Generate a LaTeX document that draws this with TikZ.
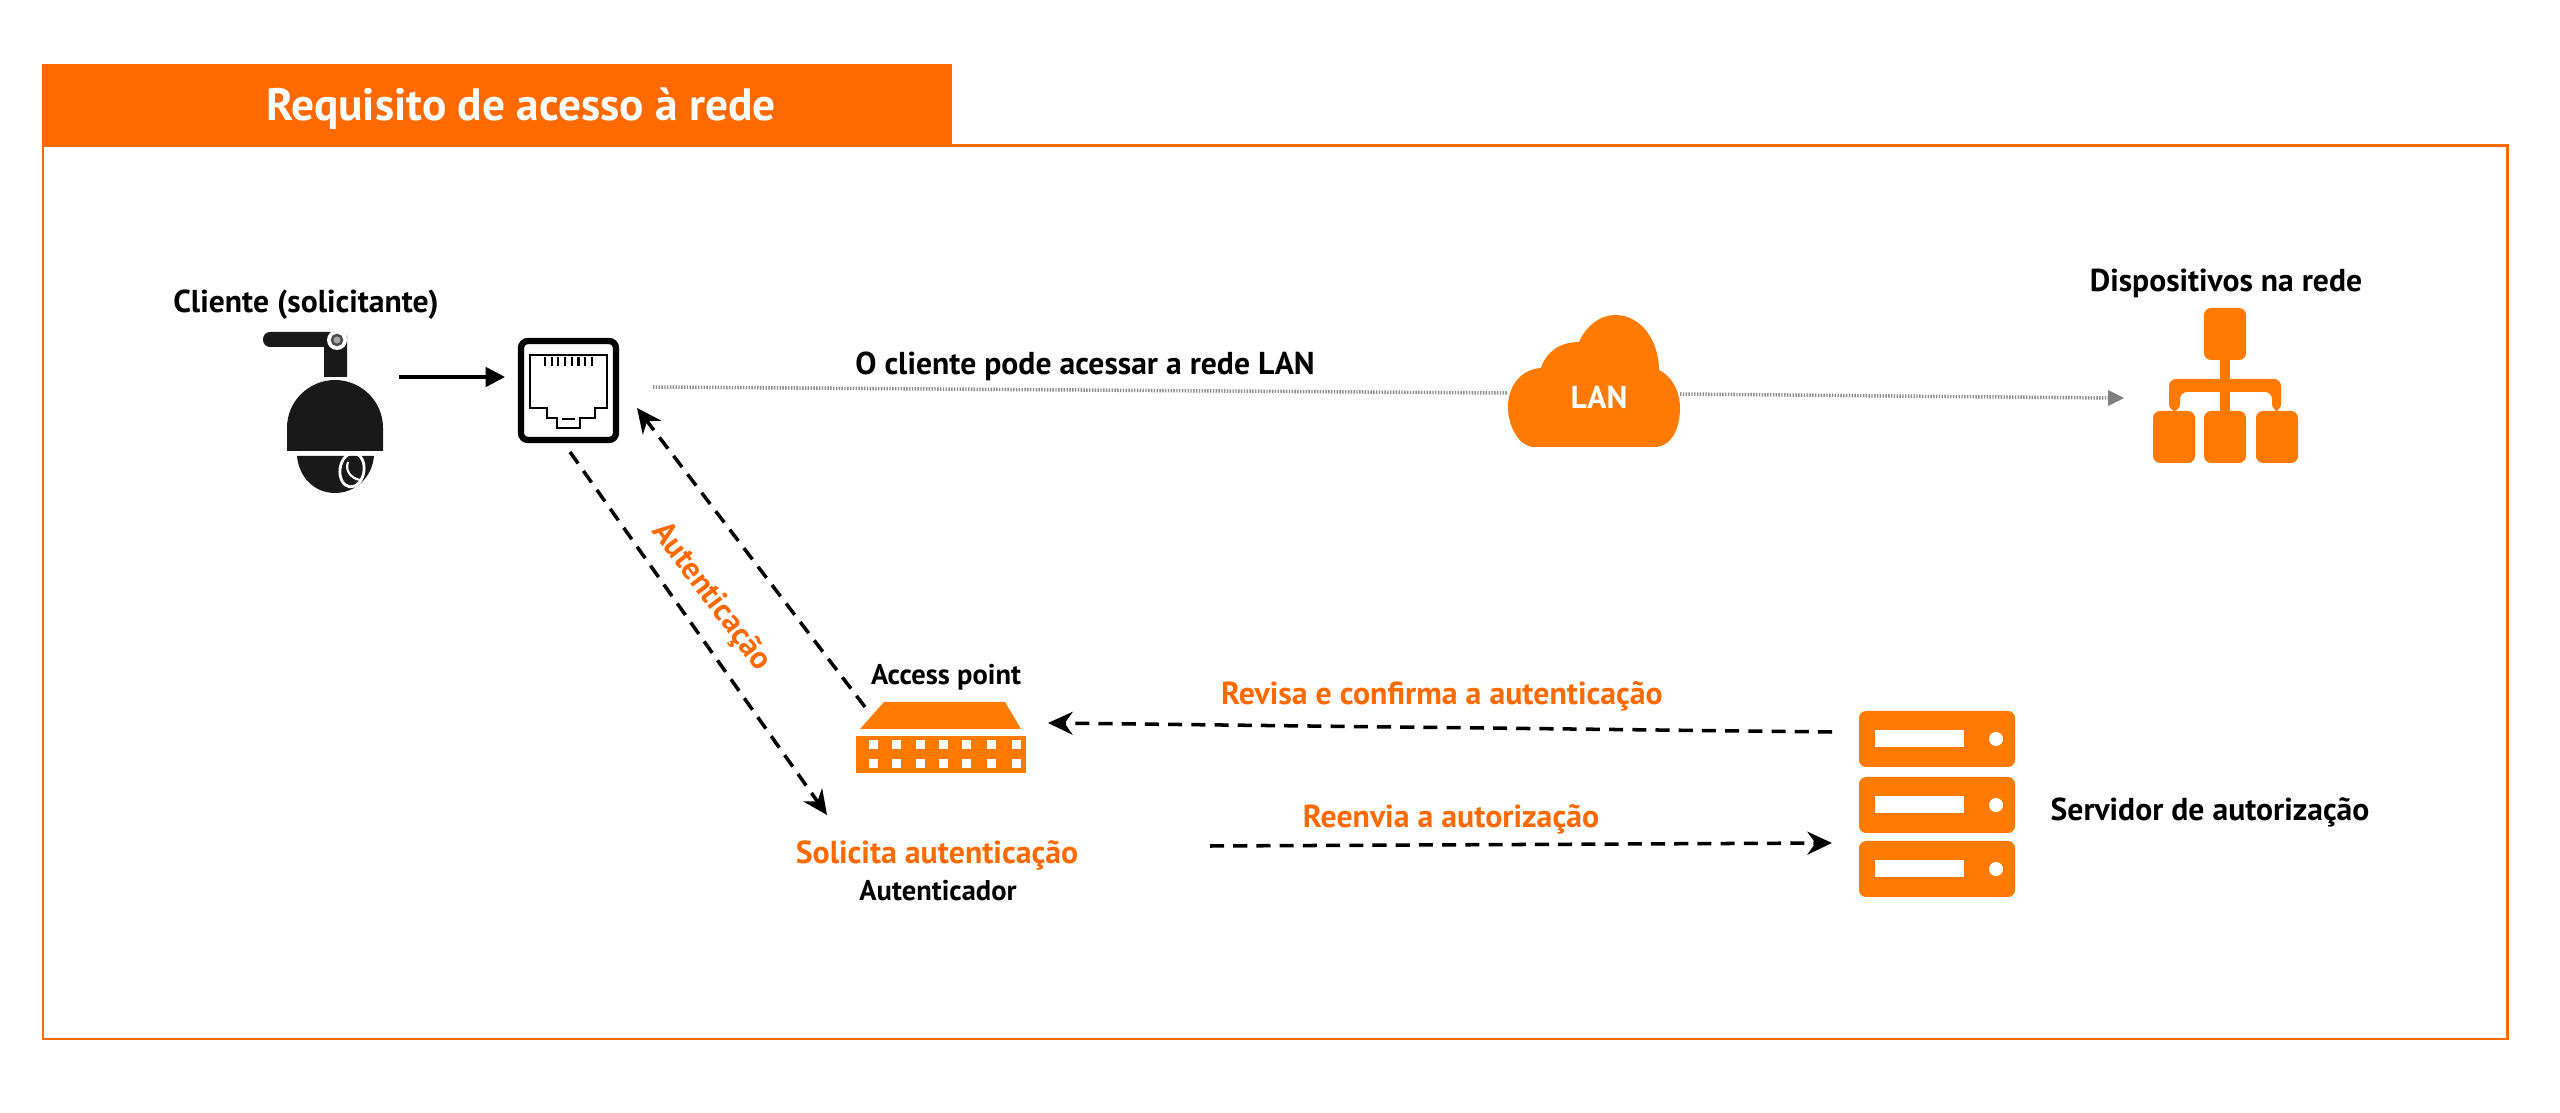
\documentclass[tikz,border=0pt]{standalone}
\usepackage{fontspec}
\setmainfont{PT Sans}
\usepackage{tikz}
\usetikzlibrary{arrows.meta,positioning}
\definecolor{tendaorange}{HTML}{FF6A00}
\definecolor{iconorange}{HTML}{FF7A00}
\begin{document}
\begin{tikzpicture}[x=0.01cm,y=-0.01cm,
  blacktext/.style = {font=\fontsize{9}{11}\selectfont\bfseries, text=black, inner sep=0pt},
  smalltext/.style = {font=\fontsize{8.1}{10}\selectfont\bfseries, text=black, inner sep=0pt},
  orangetext/.style = {font=\fontsize{9.05}{11}\selectfont\bfseries, text=tendaorange, inner sep=0pt},
  dashlink/.style = {draw=black, line width=1pt, dash pattern=on 4pt off 2.6pt, -{Stealth[length=7pt,width=6.5pt]}},
  dotlink/.style = {draw=black!45, line width=1pt, dash pattern=on .4pt off .4pt}]
\useasboundingbox (0,0) rectangle (2560,1113);
%frame and title
\draw[tendaorange, line width=.85pt] (43,146) rectangle (2507,1039);
\fill[tendaorange] (42,64) rectangle (952,146);
\node[font=\fontsize{12.9}{15}\selectfont\bfseries, text=white, inner sep=0pt] (title) at (521,109) {Requisito de acesso à rede};
%camera
\fill[black!90] (327,335) arc (180:0:10 and 12) -- (347,377) -- (324,377) -- (324,345) -- cycle;
\fill[black!90, rounded corners=2pt] (263,332) rectangle (340,347);
\fill[white] (337,340) circle (10);
\draw[black!70, line width=.7pt, fill=black!35] (337,340) circle (5);
\fill[black!90] (287,451) -- (287,428) .. controls (287,400) and (310,380) .. (335,380) .. controls (360,380) and (383,400) .. (383,428) -- (383,451) -- cycle;
\fill[black!90] (297,456) -- (374,456) .. controls (372,478) and (355,493) .. (335,493) .. controls (315,493) and (299,478) .. (297,456) -- cycle;
\draw[white, line width=.8pt, rotate around={-8:(352,470)}] (352,470) ellipse (12 and 17);
\draw[white, line width=.6pt] (348,462) .. controls (345,470) and (350,478) .. (360,480);
%port
\draw[black, line width=1.8pt, rounded corners=2pt] (521,341) rectangle (616,440);
\draw[black, line width=.8pt] (530,355) -- (607,355) -- (607,408) -- (595,408) -- (595,418) -- (580,418) -- (580,428) -- (557,428) -- (557,418) -- (547,418) -- (547,408) -- (530,408) -- cycle;
\foreach \pinx in {545,551.7,...,593}
  \draw[black, line width=.6pt] (\pinx,357) -- (\pinx,366);
\draw[black, line width=.6pt] (562,419) -- (575,419);
%cloud
\fill[iconorange] (1535,447) .. controls (1518,447) and (1508,425) .. (1508,407) .. controls (1508,385) and (1522,369) .. (1541,368) .. controls (1546,352) and (1560,342) .. (1579,342) .. controls (1586,326) and (1600,315) .. (1615,315) .. controls (1642,315) and (1659,342) .. (1659,370) .. controls (1672,376) and (1680,392) .. (1680,408) .. controls (1680,428) and (1672,447) .. (1654,447) -- cycle;
\node[font=\fontsize{9}{11}\selectfont\bfseries, text=white, inner sep=0pt] (lan) at (1599,397) {LAN};
%network devices
\fill[iconorange, rounded corners=2pt] (2204,308) rectangle (2246,360);
\foreach \boxx in {2153,2204,2256}
  \fill[iconorange, rounded corners=2pt] (\boxx,411) rectangle (\boxx+42,463);
\fill[iconorange] (2220,360) rectangle (2230,411);
\fill[iconorange, rounded corners=2pt] (2169,411) -- (2169,379) -- (2281,379) -- (2281,411) -- (2272,411) -- (2272,392) -- (2180,392) -- (2180,411) -- cycle;
%access point
\fill[iconorange] (860,729) -- (884,702) -- (1005,702) -- (1021,729) -- cycle;
\fill[iconorange] (856,736) rectangle (1026,773);
\foreach \winx in {873,896,920,943,966,991,1016}
  \foreach \winy in {745,764}
    \fill[white] (\winx-4.5,\winy-4.5) rectangle (\winx+4.5,\winy+4.5);
%server
\foreach \srvy in {711,777,841} {
  \fill[iconorange, rounded corners=2pt] (1859,\srvy) rectangle (2015,\srvy+56);
  \fill[white] (1875,\srvy+19) rectangle (1964,\srvy+36);
  \fill[white] (1996,\srvy+28) circle (7);
}
%labels
\node[blacktext] (client) at (306,305) {Cliente (solicitante)};
\node[blacktext] (devices) at (2226,283) {Dispositivos na rede};
\node[blacktext] (lanmsg) at (1085,366) {O cliente pode acessar a rede LAN};
\node[smalltext] (ap) at (946,677) {Access point};
\node[orangetext] (request) at (937,855) {Solicita autenticação};
\node[smalltext] (authr) at (938,891) {Autenticador};
\node[orangetext, rotate=-53] (auth) at (711,597) {Autenticação};
\node[orangetext] (review) at (1442,696) {Revisa e confirma a autenticação};
\node[orangetext] (resend) at (1451,819) {Reenvia a autorização};
\node[blacktext] (srvname) at (2210,812) {Servidor de autorização};
%connectors
\coordinate (camout) at (399,377);
\coordinate (portin) at (505,377);
\coordinate (portout) at (653,387);
\coordinate (cloudin) at (1508,393);
\coordinate (cloudout) at (1680,394);
\coordinate (devin) at (2124,398);
\coordinate (devbase) at (2108,398);
\coordinate (portdown) at (570,452);
\coordinate (reqin) at (827,815);
\coordinate (apout) at (865,707);
\coordinate (portup) at (637,408);
\coordinate (srvout) at (1832,732);
\coordinate (apin) at (1048,723);
\coordinate (reqout) at (1210,846);
\coordinate (srvin) at (1832,843);
\draw[black, line width=1pt, -{Triangle[length=5.5pt,width=5.5pt]}] (camout) -- (portin);
\draw[dotlink] (portout) -- (cloudin);
\draw[dotlink] (cloudout) -- (devbase);
\fill[black!50] (devin) -- (2108,390) -- (2108,406) -- cycle;
\draw[dashlink] (portdown) -- (reqin);
\draw[dashlink] (apout) -- (portup);
\draw[dashlink] (srvout) -- (apin);
\draw[dashlink] (reqout) -- (srvin);
\end{tikzpicture}
\end{document}
